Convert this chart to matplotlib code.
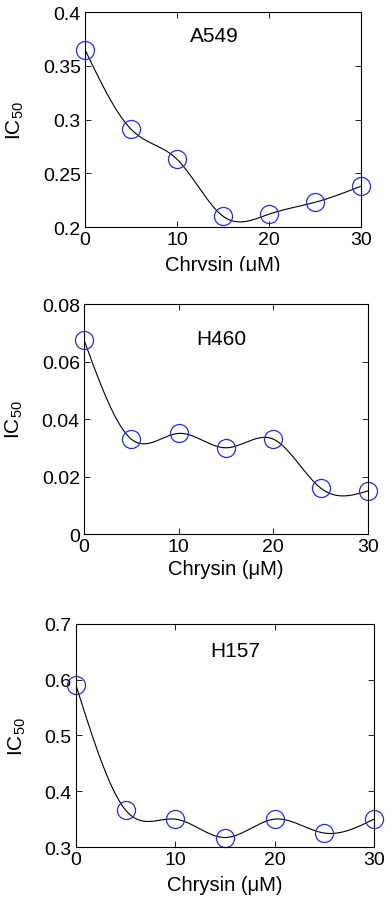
import numpy as np
import matplotlib
matplotlib.use("Agg")
import matplotlib.pyplot as plt
from matplotlib.transforms import Bbox, TransformedBbox

plt.rcParams['font.family'] = ['Liberation Sans', 'DejaVu Sans']

# ---------------- dados ---------------- #
chrysin = [0, 5, 10, 15, 20, 25, 30]

ic50_a549 = [0.365, 0.291, 0.263, 0.210, 0.212, 0.223, 0.238]
ic50_h460 = [0.0675, 0.033, 0.035, 0.030, 0.033, 0.016, 0.015]
ic50_h157 = [0.590, 0.366, 0.350, 0.317, 0.350, 0.325, 0.350]

cell_lines = ["A549", "H460", "H157"]
ylims = [(0.2, 0.4), (0, 0.08), (0.3, 0.7)]
yticks = [[0.2, 0.25, 0.3, 0.35, 0.4],
          [0, 0.02, 0.04, 0.06, 0.08],
          [0.3, 0.4, 0.5, 0.6, 0.7]]
ytick_labels = [["0.2", "0.25", "0.3", "0.35", "0.4"],
                ["0", "0.02", "0.04", "0.06", "0.08"],
                ["0.3", "0.4", "0.5", "0.6", "0.7"]]
xticks = [0, 10, 20, 30]


# ---------------- spline cúbica natural ---------------- #
def spline_nat(x, y, xx):
    x = np.asarray(x, float)
    y = np.asarray(y, float)
    n = len(x)
    h = np.diff(x)
    A = np.zeros((n, n))
    b = np.zeros(n)
    A[0, 0] = 1
    A[-1, -1] = 1
    for i in range(1, n - 1):
        A[i, i - 1] = h[i - 1]
        A[i, i] = 2 * (h[i - 1] + h[i])
        A[i, i + 1] = h[i]
        b[i] = 6 * ((y[i + 1] - y[i]) / h[i] - (y[i] - y[i - 1]) / h[i - 1])
    M = np.linalg.solve(A, b)
    idx = np.clip(np.searchsorted(x, xx) - 1, 0, n - 2)
    x0, x1 = x[idx], x[idx + 1]
    hh = x1 - x0
    return (M[idx] * (x1 - xx) ** 3 / (6 * hh) + M[idx + 1] * (xx - x0) ** 3 / (6 * hh)
            + (y[idx] / hh - M[idx] * hh / 6) * (x1 - xx)
            + (y[idx + 1] / hh - M[idx + 1] * hh / 6) * (xx - x0))


fig = plt.figure(figsize=(3.9, 9.03), dpi=100)

positions = [[0.218, 0.7475, 0.708, 0.238],
             [0.2154, 0.4075, 0.728, 0.2547],
             [0.1949, 0.0609, 0.764, 0.247]]
title_pos = [(0.467, 0.893), (0.482, 0.848), (0.533, 0.879)]
ylabel_x = [-0.214, -0.208, -0.161]
xlabel_y = [-0.13, -0.11, -0.125]

data = [ic50_a549, ic50_h460, ic50_h157]
xx = np.linspace(0, 30, 400)

for k in range(3):
    ax = fig.add_axes(positions[k])
    ax.plot(xx, spline_nat(chrysin, data[k], xx), color='black', lw=0.8)
    ax.plot(chrysin, data[k], 'o', mfc='none', mec='#2b2bd9', ms=13, mew=0.9,
            clip_on=False)
    ax.set_xlim(0, 30)
    ax.set_ylim(*ylims[k])
    ax.set_xticks(xticks)
    ax.set_yticks(yticks[k])
    ax.set_yticklabels(ytick_labels[k])
    ax.tick_params(direction='in', top=True, right=True, length=4, width=0.6,
                   labelsize=14, pad=3)
    for sp in ax.spines.values():
        sp.set_linewidth(0.8)
    ax.text(*title_pos[k], cell_lines[k], transform=ax.transAxes, fontsize=15,
            ha='center', va='center')
    ax.set_xlabel("Chrysin (μM)", fontsize=14.5)
    ax.xaxis.set_label_coords(0.5, xlabel_y[k])
    ax.set_ylabel(r"IC$_{\mathregular{50}}$", fontsize=15)
    ax.yaxis.set_label_coords(ylabel_x[k], 0.5)
    if k == 0:
        # o rótulo de cima aparece cortado na figura original
        clip = TransformedBbox(Bbox([[0, 1 - 272 / 903], [1, 1]]), fig.transFigure)
        ax.xaxis.label.set_clip_box(clip)
        ax.xaxis.label.set_clip_on(True)

fig.savefig("out.png", dpi=100)
